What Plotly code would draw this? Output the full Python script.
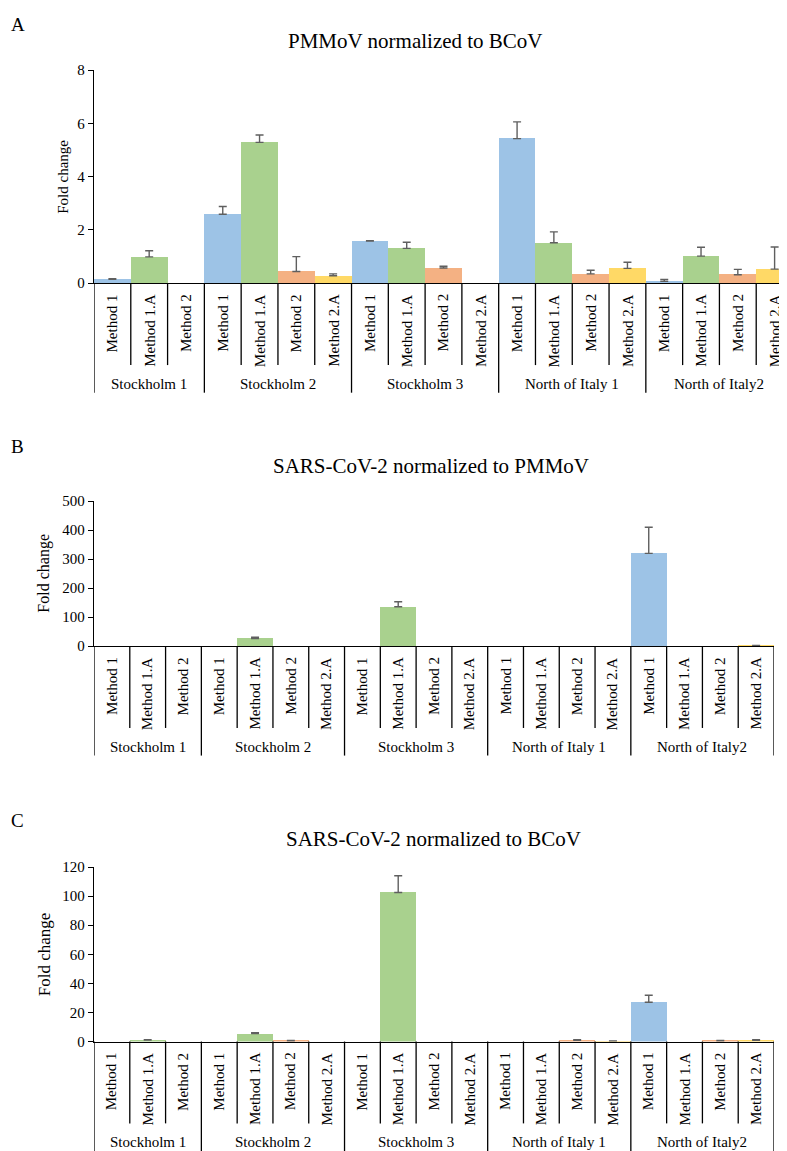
import plotly.graph_objects as go

W, H = 787, 1151
FONT = "Liberation Serif, Times New Roman, serif"

groups = ["Stockholm 1", "Stockholm 2", "Stockholm 3", "North of Italy 1", "North of Italy2"]
group_methods = [
    ["Method 1", "Method 1.A", "Method 2"],
    ["Method 1", "Method 1.A", "Method 2", "Method 2.A"],
    ["Method 1", "Method 1.A", "Method 2", "Method 2.A"],
    ["Method 1", "Method 1.A", "Method 2", "Method 2.A"],
    ["Method 1", "Method 1.A", "Method 2", "Method 2.A"],
]
method_colors = {"Method 1": "#9DC3E6", "Method 1.A": "#A9D18E",
                 "Method 2": "#F4B183", "Method 2.A": "#FFD966"}

# Panel A: PMMoV normalized to BCoV
a_values = [0.15, 0.99, 0,
            2.59, 5.29, 0.44, 0.28,
            1.58, 1.31, 0.57, 0,
            5.43, 1.52, 0.35, 0.56,
            0.07, 1.02, 0.32, 0.53]
a_errors = [0.02, 0.23, None,
            0.29, 0.28, 0.56, 0.07,
            0.02, 0.23, 0.07, None,
            0.63, 0.41, 0.14, 0.23,
            0.07, 0.33, 0.20, 0.83]

# Panel B: SARS-CoV-2 normalized to PMMoV
b_values = [0, 0, 0,
            0, 26, 0, 0,
            0, 136, 0, 0,
            0, 0, 0, 0,
            320, 0, 0, 1.0]
b_errors = [None, None, None,
            None, 4.5, None, None,
            None, 17, None, None,
            None, None, None, None,
            90, None, None, 1.0]

# Panel C: SARS-CoV-2 normalized to BCoV
c_values = [0, 1.0, 0,
            0, 5.5, 0.4, 0,
            0, 102.5, 0, 0,
            0, 0, 0.8, 0.2,
            27, 0, 0.4, 0.8]
c_errors = [None, 0.3, None,
            None, 0.5, 0.3, None,
            None, 11.5, None, None,
            None, None, 0.5, 0.2,
            4.8, None, 0.3, 0.4]

panels = [
    dict(key="A", title="PMMoV normalized to BCoV", values=a_values, errors=a_errors,
         yrange=[0, 8], dtick=2, axis_top=55, axis_bot=271, x0=86, x1=785,
         title_y=25, title_x=407, letter_y=9, ytitle_x=55, ytitle_size=15),
    dict(key="B", title="SARS-CoV-2 normalized to PMMoV", values=b_values, errors=b_errors,
         yrange=[0, 500], dtick=100, axis_top=492, axis_bot=639, x0=86, x1=766,
         title_y=456, title_x=423, letter_y=437, ytitle_x=36, ytitle_size=16),
    dict(key="C", title="SARS-CoV-2 normalized to BCoV", values=c_values, errors=c_errors,
         yrange=[0, 120], dtick=20, axis_top=863, axis_bot=1040, x0=86, x1=766,
         title_y=835, title_x=425, letter_y=816, ytitle_x=36, ytitle_size=17),
]

labels = [(g, m) for g, ms in zip(groups, group_methods) for m in ms]
n = len(labels)

def py(px):
    return 1 - px / H

fig = go.Figure()
layout = dict(width=W, height=H, autosize=False,
              margin=dict(l=0, r=0, t=0, b=0),
              paper_bgcolor="white", plot_bgcolor="white",
              showlegend=False, bargap=0,
              font=dict(family=FONT, color="black", size=15))
annotations, shapes = [], []

for k, p in enumerate(panels):
    sfx = "" if k == 0 else str(k + 1)
    xs = list(range(n))
    colors = [method_colors[m] for _, m in labels]
    fig.add_trace(go.Bar(
        x=xs, y=p["values"], marker=dict(color=colors, line=dict(width=0)),
        width=1.0, xaxis="x" + sfx, yaxis="y" + sfx, hoverinfo="skip"))
    # upper error bars only where an error value exists
    ex = [x for x, e in zip(xs, p["errors"]) if e is not None]
    ey = [v for v, e in zip(p["values"], p["errors"]) if e is not None]
    ee = [e for e in p["errors"] if e is not None]
    fig.add_trace(go.Scatter(
        x=ex, y=ey, mode="markers", marker=dict(size=1, opacity=0),
        error_y=dict(type="data", symmetric=False, array=ee, arrayminus=[0] * len(ee),
                     color="#5f5f5f", thickness=1.4, width=4),
        xaxis="x" + sfx, yaxis="y" + sfx, hoverinfo="skip"))
    layout["xaxis" + sfx] = dict(
        domain=[p["x0"] / W, p["x1"] / W], range=[-0.5, n - 0.5],
        showticklabels=False, ticks="", showgrid=False, zeroline=False,
        showline=True, linecolor="black", linewidth=1.3, anchor="y" + sfx, fixedrange=True)
    layout["yaxis" + sfx] = dict(
        domain=[py(p["axis_bot"]), py(p["axis_top"])], range=p["yrange"], dtick=p["dtick"],
        showgrid=False, zeroline=False, showline=True, linecolor="black", linewidth=1.3,
        ticks="outside", ticklen=5, tickcolor="black", tickwidth=1.3,
        tickfont=dict(family=FONT, size=15, color="black"),
        anchor="x" + sfx, fixedrange=True)

    ab = p["axis_bot"]
    xr = "x" + sfx
    # method labels
    for i, (g, m) in enumerate(labels):
        annotations.append(dict(x=i, xref=xr, y=py(ab + 9), yref="paper",
                                text=m, textangle=-90, showarrow=False,
                                xanchor="center", yanchor="top",
                                font=dict(family=FONT, size=15, color="black")))
    # group labels and dividers
    start = 0
    for g, ms in zip(groups, group_methods):
        end = start + len(ms)
        annotations.append(dict(x=(start + end - 1) / 2, xref=xr, y=py(ab + 102), yref="paper",
                                text=g, showarrow=False, xanchor="center", yanchor="middle",
                                font=dict(family=FONT, size=15, color="black")))
        for b in range(start + 1, end):
            shapes.append(dict(type="line", xref=xr, yref="paper",
                               x0=b - 0.5, x1=b - 0.5, y0=py(ab), y1=py(ab + 83),
                               line=dict(color="black", width=1.3)))
        start = end
    bounds = [0]
    for ms in group_methods:
        bounds.append(bounds[-1] + len(ms))
    for b in bounds:
        shapes.append(dict(type="line", xref=xr, yref="paper",
                           x0=b - 0.5, x1=b - 0.5, y0=py(ab), y1=py(ab + 111),
                           line=dict(color="black", width=1.3)))
    # title
    annotations.append(dict(x=p["title_x"] / W, xref="paper", y=py(p["title_y"]), yref="paper",
                            text=p["title"], showarrow=False, xanchor="center", yanchor="middle",
                            font=dict(family=FONT, size=21, color="black")))
    # panel letter
    annotations.append(dict(x=1 / W, xref="paper", y=py(p["letter_y"]), yref="paper",
                            text=p["key"], showarrow=False, xanchor="left", yanchor="middle",
                            font=dict(family=FONT, size=19, color="black")))
    # y axis title
    annotations.append(dict(x=p["ytitle_x"] / W, xref="paper",
                            y=py((p["axis_top"] + p["axis_bot"]) / 2), yref="paper",
                            text="Fold change", textangle=-90, showarrow=False,
                            xanchor="center", yanchor="middle",
                            font=dict(family=FONT, size=p["ytitle_size"], color="black")))

layout["annotations"] = annotations
layout["shapes"] = shapes
fig.update_layout(**layout)
fig.write_html("out.html")
